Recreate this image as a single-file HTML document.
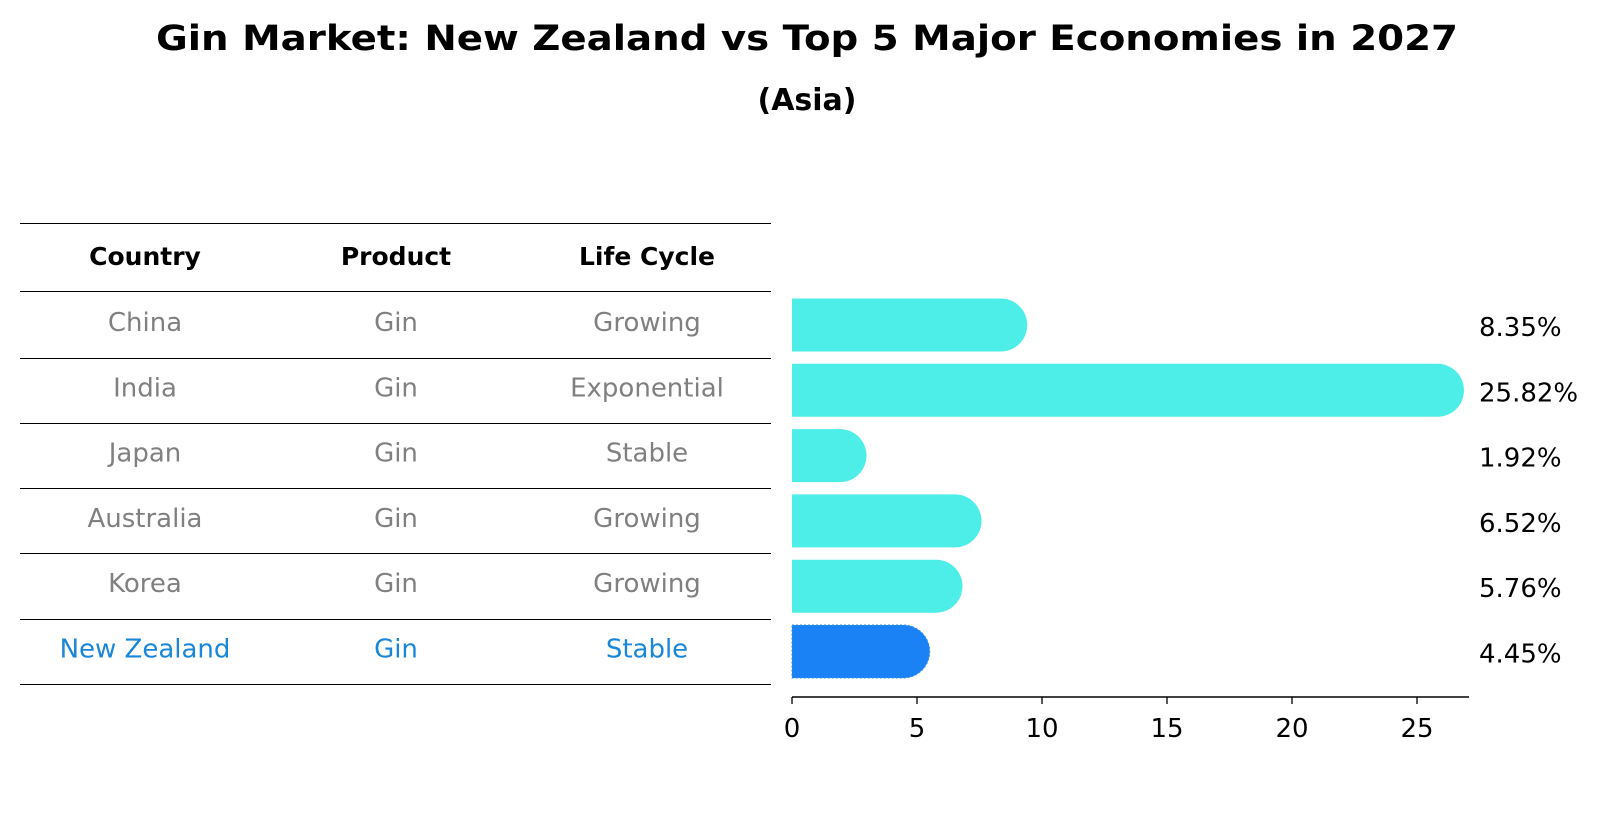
<!DOCTYPE html>
<html><head><meta charset="utf-8"><style>
body{margin:0;background:#fff;}
svg text{font-family:"DejaVu Sans","Liberation Sans",sans-serif;}
</style></head><body>
<svg id="chart" width="1604" height="823" xmlns="http://www.w3.org/2000/svg">
<text x="807" y="50" text-anchor="middle" font-size="35" font-weight="bold" textLength="1302" lengthAdjust="spacingAndGlyphs">Gin Market: New Zealand vs Top 5 Major Economies in 2027</text>
<text x="807" y="110" text-anchor="middle" font-size="30" font-weight="bold">(Asia)</text>
<g id="table"></g>
<g id="bars"></g>
</svg>
<script>
const countries = ["China","India","Japan","Australia","Korea","New Zealand"];
const products = ["Gin","Gin","Gin","Gin","Gin","Gin"];
const lifeCycles = ["Growing","Exponential","Stable","Growing","Growing","Stable"];
const values = [8.35,25.82,1.92,6.52,5.76,4.45];
const valueLabels = ["8.35%","25.82%","1.92%","6.52%","5.76%","4.45%"];
const xTicks = [0,5,10,15,20,25];

const NS="http://www.w3.org/2000/svg";
function mk(tag,attrs,parent){const e=document.createElementNS(NS,tag);for(const k in attrs)e.setAttribute(k,attrs[k]);parent.appendChild(e);return e;}
const x=v=>792+v*25;
const rowY=i=>325+i*65.3;
const barH=53, r=26.5;
const table=document.getElementById('table');
const bars=document.getElementById('bars');
const colX=[145,396,647];
const lineYs=[223,291];
for(let i=0;i<countries.length;i++) lineYs.push(Math.round(rowY(i)+32.5));
lineYs.forEach(ly=>{
  const l=mk('line',{x1:20,x2:771,y1:ly+0.5,y2:ly+0.5,stroke:'#000','stroke-width':1},table);
  
  
});
["Country","Product","Life Cycle"].forEach((h,j)=>{
  const t=mk('text',{x:colX[j],y:265,'text-anchor':'middle','font-size':25,'font-weight':'bold'},table);
  t.textContent=h;
  
  
});
countries.forEach((c,i)=>{
  const hl=i===countries.length-1;
  const col=hl?'#1a86d8':'#808080';
  [c,products[i],lifeCycles[i]].forEach((v,j)=>{
    const t=mk('text',{x:colX[j],y:rowY(i)+6,'text-anchor':'middle','font-size':26,fill:col},table);
    t.textContent=v;
    
    
  });
  const xv=x(values[i]), y0=rowY(i)-barH/2;
  const fill=hl?'#1a82f5':'#4dede8';
  const d=`M${x(0)},${y0} L${xv},${y0} A${r},${r} 0 0 1 ${xv},${y0+barH} L${x(0)},${y0+barH} Z`;
  const p=mk('path',{d:d,fill:fill},bars);
  if(hl){p.setAttribute('stroke','#3a8fe8');p.setAttribute('stroke-dasharray','2,2');}
  
  
  const t=mk('text',{x:1479,y:rowY(i)+11,'font-size':26},bars);
  t.textContent=valueLabels[i];
  
  
});
const ax=mk('line',{x1:x(0),x2:1469,y1:697,y2:697,stroke:'#000','stroke-width':1.5},bars);


xTicks.forEach(v=>{
  const tk=mk('line',{x1:x(v),x2:x(v),y1:697,y2:704,stroke:'#000','stroke-width':1.3},bars);
  
  
  const t=mk('text',{x:x(v),y:737,'text-anchor':'middle','font-size':26},bars);
  t.textContent=v;
  
  
});
</script>
</body></html>
